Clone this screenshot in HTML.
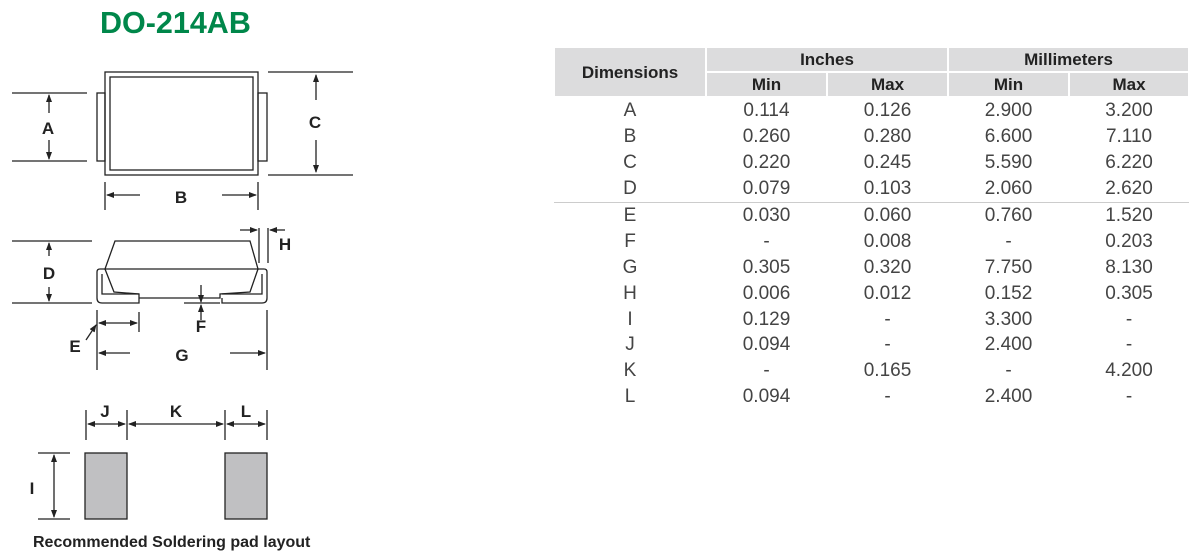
<!DOCTYPE html>
<html><head><meta charset="utf-8"><style>
body{margin:0;width:1200px;height:559px;background:#fff;overflow:hidden;position:relative;font-family:"Liberation Sans",Arial,sans-serif}
svg{position:absolute;left:0;top:0}
table{position:absolute;left:553px;top:46px;border-collapse:collapse;width:635px;table-layout:fixed}
td,th{padding:0;text-align:center;font-size:19px;color:#444;height:25.9px;line-height:25px}
th{background:#dcdcdd;font-weight:bold;color:#222;font-size:17px;border:2px solid #fff;height:23px;line-height:23px}
tr.sep td{border-top:1px solid #ccc}
</style></head><body>
<svg width="1200" height="559" font-family="Liberation Sans,Arial,sans-serif" font-weight="bold" fill="#222">
<defs><marker id="a" markerWidth="8" markerHeight="8" refX="7" refY="4" orient="auto" markerUnits="userSpaceOnUse"><path d="M0,1 L8,4 L0,7z" fill="#222"/></marker></defs>
<text x="100" y="33" fill="#00874a" font-size="30.5">DO-214AB</text>
<g stroke="#222" fill="none" stroke-width="1.3">
<rect x="105" y="72" width="153" height="103"/><rect x="110" y="77" width="143" height="93"/>
<rect x="97" y="93" width="8" height="68"/><rect x="258" y="93" width="9" height="68"/>
<path d="M12 93H87M12 161H87M268 72H353M268 175H353M105 182V210M258 182V210"/>
<path d="M12 241H92M12 303H92M115 241H250L258 269H105Z"/>
<path d="M105 269L114 292L139 294V298H220V294L250 292L258 269M105 269H100Q97 269 97 272V298Q97 303 102 303H139V298M258 269H264Q267 269 267 272V298Q267 303 262 303H222V298"/>
<path d="M102 274V294H139M262 274V294H222"/>
<path d="M259 228V263M268 228V263M184 303H220M97 310V370M267 310V370M139 312V332"/>
<path d="M38 453H70M38 519H70M86 410V440M127 410V440M225 410V440M267 410V440"/>
</g>
<g stroke="#222" stroke-width="1.3" marker-end="url(#a)">
<line x1="49" y1="113" x2="49" y2="95"/><line x1="49" y1="140" x2="49" y2="159"/>
<line x1="316" y1="100" x2="316" y2="75"/><line x1="316" y1="140" x2="316" y2="172"/>
<line x1="140" y1="195" x2="107" y2="195"/><line x1="222" y1="195" x2="256" y2="195"/>
<line x1="49" y1="256" x2="49" y2="243"/><line x1="49" y1="287" x2="49" y2="301"/>
<line x1="240" y1="230" x2="257" y2="230"/><line x1="285" y1="230" x2="270" y2="230"/>
<line x1="201" y1="285" x2="201" y2="302"/><line x1="201" y1="320" x2="201" y2="305"/>
<line x1="118" y1="323" x2="99" y2="323"/><line x1="118" y1="323" x2="137" y2="323"/>
<line x1="130" y1="353" x2="99" y2="353"/><line x1="230" y1="353" x2="265" y2="353"/>
<line x1="86" y1="340" x2="96" y2="325"/>
<line x1="106" y1="424" x2="125" y2="424"/><line x1="106" y1="424" x2="88" y2="424"/>
<line x1="176" y1="424" x2="223" y2="424"/><line x1="176" y1="424" x2="129" y2="424"/>
<line x1="246" y1="424" x2="265" y2="424"/><line x1="246" y1="424" x2="227" y2="424"/>
<line x1="54" y1="486" x2="54" y2="517"/><line x1="54" y1="486" x2="54" y2="455"/>
</g>
<g font-size="17" text-anchor="middle">
<text x="48" y="134">A</text><text x="315" y="128">C</text><text x="181" y="203">B</text>
<text x="49" y="279">D</text><text x="285" y="250">H</text><text x="201" y="332">F</text><text x="75" y="352">E</text><text x="182" y="361">G</text>
<text x="105" y="417">J</text><text x="176" y="417">K</text><text x="246" y="417">L</text><text x="32" y="494">I</text>
</g>
<g stroke="#222" stroke-width="1.3">
<rect x="85" y="453" width="42" height="66" fill="#c0c0c2"/><rect x="225" y="453" width="42" height="66" fill="#c0c0c2"/>
</g>
<text x="33" y="547" font-size="16">Recommended Soldering pad layout</text>
</svg>
<table>
<colgroup><col style="width:152px"><col style="width:121px"><col style="width:121px"><col style="width:121px"><col style="width:120px"></colgroup>
<tr><th rowspan="2">Dimensions</th><th colspan="2">Inches</th><th colspan="2">Millimeters</th></tr>
<tr><th>Min</th><th>Max</th><th>Min</th><th>Max</th></tr>
<tr><td>A</td><td>0.114</td><td>0.126</td><td>2.900</td><td>3.200</td></tr>
<tr><td>B</td><td>0.260</td><td>0.280</td><td>6.600</td><td>7.110</td></tr>
<tr><td>C</td><td>0.220</td><td>0.245</td><td>5.590</td><td>6.220</td></tr>
<tr><td>D</td><td>0.079</td><td>0.103</td><td>2.060</td><td>2.620</td></tr>
<tr class="sep"><td>E</td><td>0.030</td><td>0.060</td><td>0.760</td><td>1.520</td></tr>
<tr><td>F</td><td>-</td><td>0.008</td><td>-</td><td>0.203</td></tr>
<tr><td>G</td><td>0.305</td><td>0.320</td><td>7.750</td><td>8.130</td></tr>
<tr><td>H</td><td>0.006</td><td>0.012</td><td>0.152</td><td>0.305</td></tr>
<tr><td>I</td><td>0.129</td><td>-</td><td>3.300</td><td>-</td></tr>
<tr><td>J</td><td>0.094</td><td>-</td><td>2.400</td><td>-</td></tr>
<tr><td>K</td><td>-</td><td>0.165</td><td>-</td><td>4.200</td></tr>
<tr><td>L</td><td>0.094</td><td>-</td><td>2.400</td><td>-</td></tr>
</table>
</body></html>
